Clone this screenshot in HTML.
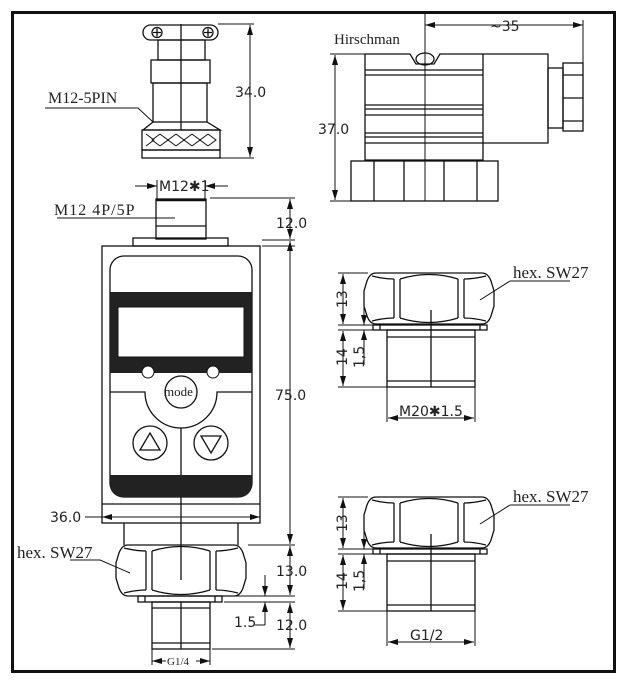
<!DOCTYPE html>
<html><head><meta charset="utf-8"><style>
html,body{margin:0;padding:0;background:#fff;}
svg{display:block;}
.s{fill:none;stroke:#111;stroke-width:1.3;}
.t{stroke-width:1;}
.d{font-family:"DejaVu Sans","Liberation Sans",sans-serif;font-size:14px;fill:#222;}
.l{font-family:"Liberation Serif",serif;font-size:16px;fill:#222;}
</style></head><body>
<svg width="623" height="680" viewBox="0 0 623 680" xmlns="http://www.w3.org/2000/svg">
<defs>
<marker id="a" viewBox="0 0 10 6" refX="10" refY="3" markerWidth="10" markerHeight="6" orient="auto-start-reverse" markerUnits="userSpaceOnUse"><path d="M0,0 L10,3 L0,6 Z" fill="#111"/></marker>
<g id="hex" class="s">
<path d="M12,0 H118 Q124,0 127,8 L130,18 V33 L127,43 Q124,51 118,51 H12 Q6,51 3,43 L0,33 V18 L3,8 Q6,0 12,0 Z"/>
<path d="M30,6 V45 M36,6 V45 M94,6 V45 M100,6 V45"/>
<path d="M8,3 Q20,6 30,6 M36,6 Q65,-3 94,6 M100,6 Q110,6 122,3"/>
<path d="M8,48 Q20,45 30,45 M36,45 Q65,54 94,45 M100,45 Q110,45 122,48"/>
</g>
</defs>
<rect x="12.5" y="12.5" width="602" height="659" fill="none" stroke="#111" stroke-width="3"/>

<!-- top-left connector -->
<g class="s">
<rect x="143" y="25" width="75" height="15" rx="7.5"/>
<circle cx="157" cy="32.5" r="5"/><path d="M153,32.5 H161 M157,28.5 V36.5"/>
<circle cx="208" cy="32.5" r="5"/><path d="M204,32.5 H212 M208,28.5 V36.5"/>
<rect x="158" y="40" width="47" height="20"/>
<rect x="151" y="60" width="59" height="23"/>
<rect x="153" y="83" width="54" height="39"/>
<path d="M153,122 L143,130 H220 L207,122"/>
<rect x="142" y="130" width="78" height="20"/>
<path class="t" d="M146,134 l8,6 -8,6 M160,134 l-8,6 8,6 M160,134 l8,6 -8,6 M176,134 l-8,6 8,6 M176,134 l8,6 -8,6 M192,134 l-8,6 8,6 M192,134 l8,6 -8,6 M208,134 l-8,6 8,6 M208,134 l8,6 -8,6"/>
<rect x="142" y="150" width="78" height="8"/>
<path d="M181,24 V130"/>
<path class="t" d="M218,24 H254 M220,158 H254"/>
<path class="t" d="M250,25 V157" marker-start="url(#a)" marker-end="url(#a)"/>
<path class="t" d="M45,108 H138 L153,122"/>
</g>
<text class="d" x="235" y="97">34.0</text>
<text class="l" x="48" y="103">M12-5PIN</text>

<!-- M12 stub -->
<g class="s">
<path class="t" d="M135,186 H157 M205,186 H228" />
<path class="t" d="M147,186 H157" marker-end="url(#a)"/><path class="t" d="M215,186 H205" marker-end="url(#a)"/>
<path class="t" d="M157,180 V200 M205,180 V200"/>
<rect x="156" y="199" width="50" height="40"/>
<path d="M156,200 H206" stroke-width="2.5"/>
<path d="M156,226 H206"/>
<rect x="133" y="238" width="95" height="8"/>
<path class="t" d="M57,218 H175"/>
<path class="t" d="M210,198 H295 M262,240 H295"/>
<path class="t" d="M290,199 V239" marker-start="url(#a)" marker-end="url(#a)"/>
</g>
<text class="d" x="159" y="191">M12✱1</text>
<text class="l" x="54" y="215" style="letter-spacing:1px">M12  4P/5P</text>
<text class="d" x="276" y="228">12.0</text>

<!-- main body -->
<g class="s">
<rect x="102" y="246" width="158" height="277"/>
<rect x="110" y="256" width="142" height="241" rx="14"/>
</g>
<path d="M110,292 H252 V373 H110 Z" fill="#222"/>
<rect x="118" y="307" width="126" height="50" fill="#fff" stroke="#111"/>
<circle cx="148" cy="372" r="6" fill="#fff" stroke="#111"/>
<circle cx="213" cy="372" r="6" fill="#fff" stroke="#111"/>
<path d="M110,475 H252 V483 Q252,497 238,497 H124 Q110,497 110,483 Z" fill="#222"/>
<g class="s">
<path d="M110,392 H145 A36,36 0 0 0 217,392 H252"/>
<circle cx="181" cy="392" r="16"/>
<path d="M181,428 V475"/>
<circle cx="150" cy="443" r="17"/><path d="M150,433 L160,450 H140 Z"/>
<circle cx="211" cy="443" r="17"/><path d="M211,453 L221,436 H201 Z"/>
<path d="M102,504 H260 M181,497 V580"/>
<path class="t" d="M85,517 H102" /><path class="t" d="M120,517 H102" marker-end="url(#a)"/>
<path class="t" d="M102,517 H260"/><path class="t" d="M240,517 H260" marker-end="url(#a)"/>
<path d="M124,523 V545 M238,523 V545"/>
<path class="t" d="M262,246 H295 M248,545 H295"/>
<path class="t" d="M290,241 V544" marker-start="url(#a)" marker-end="url(#a)"/>
</g>
<text class="l" x="164" y="396" style="font-size:13px">mode</text>
<text class="d" x="275" y="400">75.0</text>
<text class="d" x="50" y="522">36.0</text>

<!-- bottom fitting left -->
<use href="#hex" x="116" y="545"/>
<g class="s">
<rect x="138" y="596" width="84" height="6"/>
<path d="M145,596 V602 M215,596 V602"/>
<rect x="152" y="602" width="58" height="47"/>
<path d="M152,608 H210 M152,643 H210 M181,602 V649"/>
<path class="t" d="M152,649 V665 M210,649 V665"/>
<path class="t" d="M152,661 H166" marker-start="url(#a)"/><path class="t" d="M196,661 H210" marker-end="url(#a)"/>
<path class="t" d="M224,596 H295 M224,602 H295 M212,649 H295"/>
<path class="t" d="M290,546 V595" marker-start="url(#a)" marker-end="url(#a)"/>
<path class="t" d="M290,603 V648" marker-start="url(#a)" marker-end="url(#a)"/>
<path class="t" d="M265,575 V596" marker-end="url(#a)"/>
<path class="t" d="M265,625 V602" marker-end="url(#a)"/>
<path class="t" d="M255,625 H265"/>
<path class="t" d="M70,560 H100 L130,573"/>
</g>
<text class="d" x="167" y="665" style="font-size:11px;font-family:'Liberation Serif',serif">G1/4</text>
<text class="d" x="276" y="576">13.0</text>
<text class="d" x="276" y="630">12.0</text>
<text class="d" x="234" y="627">1.5</text>
<text class="l" x="17" y="558" style="font-size:17px">hex. SW27</text>

<!-- Hirschman -->
<g class="s">
<path class="t" d="M425,14 V201"/>
<path class="t" d="M425,25 H583" marker-start="url(#a)" marker-end="url(#a)"/>
<path class="t" d="M583,20 V63"/>
<path d="M365,54 H410 L416,64 H434 L440,54 H483 V160 H365 Z"/>
<ellipse cx="425" cy="59" rx="9" ry="6"/>
<path d="M365,70 H483 M365,75 H483 M365,105 H483 M365,109 H483 M365,115 H483 M365,133 H483 M365,137 H483 M365,143 H483"/>
<path d="M483,54 H548 V143 H483"/>
<rect x="548" y="68" width="15" height="60"/>
<rect x="563" y="63" width="20" height="68"/>
<path d="M563,75 H583 M563,98 H583 M563,121 H583"/>
<rect x="351" y="161" width="147" height="40"/>
<path d="M374,161 V201 M404,161 V201 M444,161 V201 M477,161 V201"/>
<path class="t" d="M330,54 H365 M330,201 H351"/>
<path class="t" d="M335,55 V200" marker-start="url(#a)" marker-end="url(#a)"/>
</g>
<text class="l" x="334" y="44" style="font-size:15px">Hirschman</text>
<text class="d" x="490" y="31">~35</text>
<text class="d" x="318" y="134">37.0</text>

<!-- right fittings -->
<g id="rf1">
<use href="#hex" x="364" y="273"/>
<g class="s">
<rect x="373" y="325" width="114" height="5"/>
<path d="M380,325 V330 M480,325 V330"/>
<rect x="387" y="330" width="88" height="57"/>
<path d="M387,337 H475 M387,381 H475 M431,310 V387"/>
<path class="t" d="M338,273 H368 M338,325 H373 M338,330 H373 M338,387 H387"/>
<path class="t" d="M343,274 V324" marker-start="url(#a)" marker-end="url(#a)"/>
<path class="t" d="M343,331 V386" marker-start="url(#a)" marker-end="url(#a)"/>
<path class="t" d="M364,305 V325" marker-end="url(#a)"/>
<path class="t" d="M364,365 V330" marker-end="url(#a)"/>
<path class="t" d="M387,387 V422 M475,387 V422"/>
<path class="t" d="M510,281 H570 M510,281 L480,300"/>
</g>
<text class="d" transform="translate(347,308) rotate(-90)">13</text>
<text class="d" transform="translate(347,366) rotate(-90)">14</text>
<text class="d" transform="translate(364,368) rotate(-90)">1,5</text>
<text class="l" x="513" y="278" style="font-size:17px">hex. SW27</text>
</g>
<path class="s t" d="M388,418 H474" marker-start="url(#a)" marker-end="url(#a)"/>
<text class="d" x="399" y="416">M20✱1.5</text>

<use href="#rf1" x="0" y="224"/>
<path class="s t" d="M388,642 H474" marker-start="url(#a)" marker-end="url(#a)"/>
<text class="d" x="410" y="640">G1/2</text>
</svg>
</body></html>
